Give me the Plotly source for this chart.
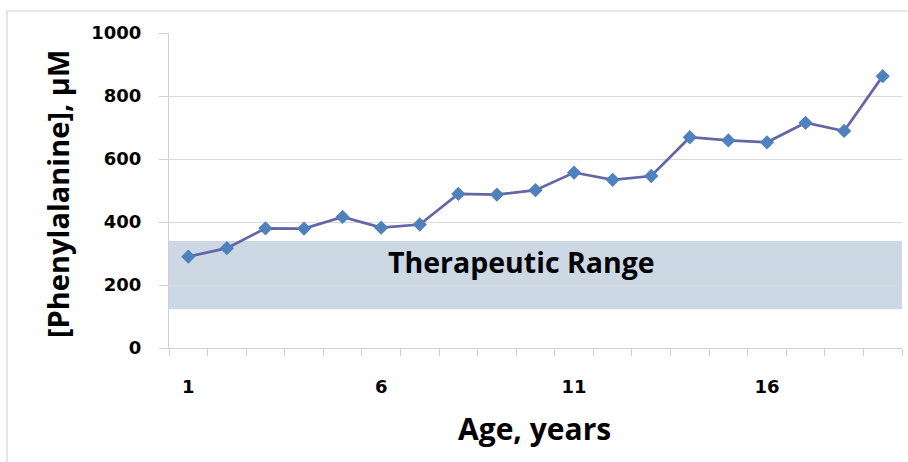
import plotly.graph_objects as go

ages = list(range(1, 20))
phe_um = [290, 317, 380, 379, 416, 382, 392, 489, 487, 501, 557, 534, 546, 669, 659, 653, 715, 689, 863]
tick_labels = [str(a) if (a - 1) % 5 == 0 else "" for a in ages]
y_ticks = [0, 200, 400, 600, 800, 1000]
therapeutic_low = 123
therapeutic_high = 340

W, H = 908, 462
L, R, T, B = 169, 6, 33, 114
pw, ph = W - L - R, H - T - B

def px_x(p):
    return (p - L) / pw

def px_y(p):
    return (H - B - p) / ph

fig = go.Figure()
fig.add_trace(go.Scatter(
    x=[str(a) for a in ages], y=phe_um, mode="lines+markers",
    line=dict(color="#6466A6", width=2.7),
    marker=dict(symbol="diamond", size=11, color="#4F81BD", line=dict(width=0)),
    showlegend=False, hoverinfo="x+y",
))

fig.add_shape(type="rect", xref="paper", yref="y", x0=0, x1=1,
              y0=therapeutic_low, y1=therapeutic_high,
              fillcolor="#CDD8E5", line=dict(width=0), layer="below")

# outer chart frame (top and left edges)
fig.add_shape(type="line", xref="paper", yref="paper", x0=px_x(7), x1=px_x(915),
              y0=px_y(11), y1=px_y(11), line=dict(color="#D4D4D4", width=1.2))
fig.add_shape(type="line", xref="paper", yref="paper", x0=px_x(7), x1=px_x(7),
              y0=px_y(11), y1=px_y(470), line=dict(color="#D4D4D4", width=1.2))

font_family = "Open Sans"
common = dict(xref="paper", yref="paper", showarrow=False, xanchor="center", yanchor="middle")
fig.add_annotation(text="<b>Therapeutic Range</b>", x=px_x(521), y=px_y(262),
                   font=dict(family=font_family, size=28.5, color="#000000"), **common)
fig.add_annotation(text="<b>Age, years</b>", x=px_x(534), y=px_y(428),
                   font=dict(family=font_family, size=30, color="#000000"), **common)
fig.add_annotation(text="<b>[Phenylalanine], μM</b>", x=px_x(57), y=px_y(194), textangle=-90,
                   font=dict(family=font_family, size=29, color="#000000"), **common)

fig.update_xaxes(
    type="category", tickmode="array", tickvals=[str(a) for a in ages], ticktext=tick_labels,
    tickson="boundaries", ticks="outside", ticklen=7, tickcolor="#D0D0D0", tickwidth=1,
    showline=True, linecolor="#D0D0D0", linewidth=1, showgrid=False,
    range=[-0.5, len(ages) - 0.5], ticklabelstandoff=22,
    tickfont=dict(family="DejaVu Sans", size=18, color="#000000", weight="bold"),
)
fig.update_yaxes(
    range=[0, 1000], tickvals=y_ticks, ticks="outside", ticklen=9, tickcolor="#D0D0D0",
    showline=True, linecolor="#D0D0D0", linewidth=1,
    showgrid=True, gridcolor="#D9D9D9", gridwidth=1, zeroline=False,
    ticklabelstandoff=14,
    tickfont=dict(family="DejaVu Sans", size=18, color="#000000", weight="bold"),
)
fig.update_layout(
    width=W, height=H, margin=dict(l=L, r=R, t=T, b=B, autoexpand=False),
    paper_bgcolor="white", plot_bgcolor="white",
)
fig.write_html("out.html", config={"displayModeBar": False},
               post_script="document.body.style.margin='0px';")
